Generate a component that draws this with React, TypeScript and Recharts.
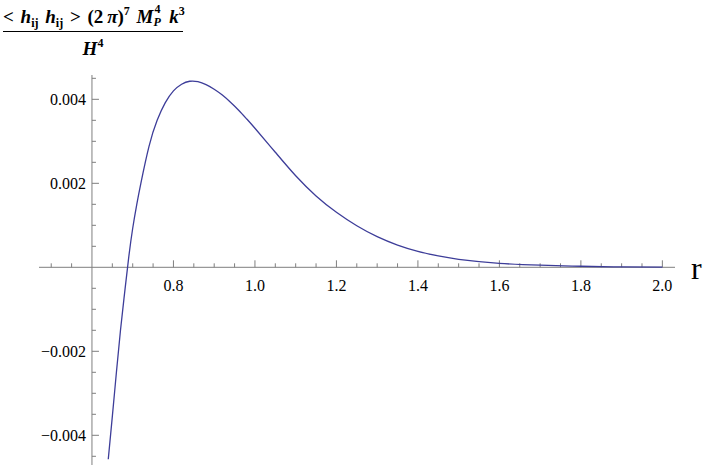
import React from "react";
import { LineChart, Line, XAxis, YAxis, ReferenceLine, ReferenceDot } from "recharts";

const rValues = [0.64, 0.65, 0.66, 0.67, 0.68, 0.69, 0.70, 0.71, 0.72, 0.74, 0.76, 0.78, 0.80, 0.82, 0.84, 0.86, 0.88, 0.90, 0.92, 0.94, 0.96, 0.98, 1.00, 1.05, 1.10, 1.15, 1.20, 1.25, 1.30, 1.35, 1.40, 1.45, 1.50, 1.60, 1.70, 1.80, 1.90, 2.00];
const hValues = [-0.00457, -0.00355, -0.0025, -0.0015, -0.00062, 0.00022, 0.00093, 0.0015, 0.002, 0.00288, 0.0035, 0.00392, 0.0042, 0.00436, 0.00443, 0.00442, 0.00435, 0.00424, 0.0041, 0.00393, 0.00374, 0.00353, 0.00331, 0.00274, 0.00218, 0.0017, 0.00131, 0.00099, 0.00073, 0.00053, 0.00038, 0.00027, 0.00019, 0.000095, 0.00005, 0.000025, 0.00001, 0.000005];

const xMajorTicks = [0.8, 1.0, 1.2, 1.4, 1.6, 1.8, 2.0];
const xMajorLabels = ["0.8", "1.0", "1.2", "1.4", "1.6", "1.8", "2.0"];
const xMinorTicks = [0.5, 0.55, 0.65, 0.7, 0.75, 0.85, 0.9, 0.95, 1.05, 1.1, 1.15, 1.25, 1.3, 1.35, 1.45, 1.5, 1.55, 1.65, 1.7, 1.75, 1.85, 1.9, 1.95];
const yMajorTicks = [-0.004, -0.002, 0.002, 0.004];
const yMajorLabels = ["\u22120.004", "\u22120.002", "0.002", "0.004"];
const yMinorTicks = [-0.0045, -0.0035, -0.003, -0.0025, -0.0015, -0.001, -0.0005, 0.0005, 0.001, 0.0015, 0.0025, 0.003, 0.0035, 0.0045];

const X_DOMAIN: [number, number] = [0.47, 2.031];
const Y_DOMAIN: [number, number] = [-0.004707, 0.004579];
const Y_AXIS_AT = 0.6;

const data = rValues.map((r, i) => ({ r, v: hValues[i] }));

const AXIS = "#7f7f7f";
const FONT = "Liberation Serif, Times New Roman, serif";

const xMajLen = 0.000167;
const xMinLen = 0.000095;
const yMajLen = 0.0172;
const yMinLen = 0.0098;

const supStyle: React.CSSProperties = { fontSize: 12, position: "relative", top: -8 };
const subStyle: React.CSSProperties = { fontSize: 12, position: "relative", top: 4 };

export default function App() {
  return (
    <div style={{ position: "absolute", left: 0, top: 0, width: 706, height: 467, background: "#fff" }}>
      <LineChart width={706} height={467} data={data} margin={{ top: 75, right: 31, bottom: 2, left: 39 }}>
        <XAxis type="number" dataKey="r" domain={X_DOMAIN} hide allowDataOverflow />
        <YAxis type="number" domain={Y_DOMAIN} hide allowDataOverflow />
        <ReferenceLine y={0} stroke={AXIS} strokeWidth={1} />
        <ReferenceLine x={Y_AXIS_AT} stroke={AXIS} strokeWidth={1} />
        {xMajorTicks.map((t) => (
          <ReferenceLine key={"xM" + t} segment={[{ x: t, y: 0 }, { x: t, y: xMajLen }]} stroke={AXIS} />
        ))}
        {xMinorTicks.map((t) => (
          <ReferenceLine key={"xm" + t} segment={[{ x: t, y: 0 }, { x: t, y: xMinLen }]} stroke={AXIS} />
        ))}
        {yMajorTicks.map((t) => (
          <ReferenceLine key={"yM" + t} segment={[{ x: Y_AXIS_AT, y: t }, { x: Y_AXIS_AT + yMajLen, y: t }]} stroke={AXIS} />
        ))}
        {yMinorTicks.map((t) => (
          <ReferenceLine key={"ym" + t} segment={[{ x: Y_AXIS_AT, y: t }, { x: Y_AXIS_AT + yMinLen, y: t }]} stroke={AXIS} />
        ))}
        {xMajorTicks.map((t, i) => (
          <ReferenceDot
            key={"xl" + t}
            x={t}
            y={0}
            r={0}
            stroke="none"
            fill="none"
            label={{ value: xMajorLabels[i], position: "bottom", offset: 12, fontSize: 16, fontFamily: FONT, fill: "#000" }}
          />
        ))}
        {yMajorTicks.map((t, i) => (
          <ReferenceDot
            key={"yl" + t}
            x={Y_AXIS_AT}
            y={t}
            r={0}
            stroke="none"
            fill="none"
            label={{ value: yMajorLabels[i], position: "left", offset: 6, fontSize: 16, fontFamily: FONT, fill: "#000" }}
          />
        ))}
        <ReferenceDot
          x={X_DOMAIN[1]}
          y={0}
          r={0}
          stroke="none"
          fill="none"
          ifOverflow="visible"
          label={{ value: "r", position: "right", offset: 16, fontSize: 32, fontFamily: FONT, fill: "#000" }}
        />
        <Line type="natural" dataKey="v" stroke="#3d3d99" strokeWidth={1.3} dot={false} isAnimationActive={false} />
      </LineChart>
      <div
        style={{
          position: "absolute",
          left: 3,
          top: 6,
          width: 180,
          fontFamily: FONT,
          fontWeight: "bold",
          fontSize: 19,
          color: "#000",
          textAlign: "center",
          lineHeight: "22px",
        }}
      >
        <div style={{ whiteSpace: "nowrap", height: 22, paddingBottom: 3, borderBottom: "1.5px solid #000", wordSpacing: 2 }}>
          {"< "}
          <i>h</i>
          <span style={subStyle}>ij</span> <i>h</i>
          <span style={subStyle}>ij</span>
          {" >  (2\u2009"}
          <i>π</i>
          {")"}
          <span style={supStyle}>7</span> <i>M</i>
          <span style={{ display: "inline-block", position: "relative", width: 9, height: 10 }}>
            <span style={{ position: "absolute", left: 1, top: -10, fontSize: 12, lineHeight: "12px" }}>4</span>
            <i style={{ position: "absolute", left: 0, top: 3, fontSize: 12, lineHeight: "12px" }}>P</i>
          </span>{" "}
          <i>k</i>
          <span style={supStyle}>3</span>
        </div>
        <div style={{ paddingTop: 6 }}>
          <i>H</i>
          <span style={supStyle}>4</span>
        </div>
      </div>
    </div>
  );
}
